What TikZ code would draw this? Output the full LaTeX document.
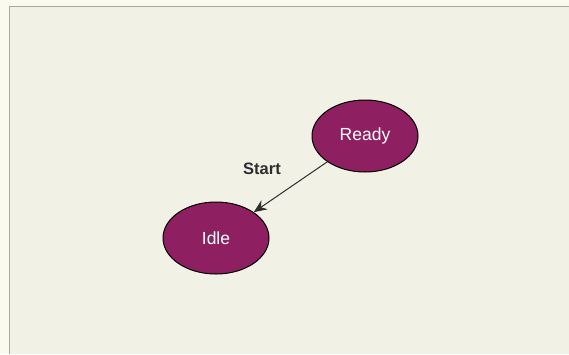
\documentclass[tikz,border=0pt]{standalone}
\usepackage{fontspec}
\setmainfont{Liberation Sans}
\usetikzlibrary{shapes.geometric,arrows.meta}
\definecolor{pagebg}{HTML}{FAFAEE}
\definecolor{canvas}{HTML}{F1F1E6}
\definecolor{framecol}{HTML}{A4AAA2}
\definecolor{statefill}{HTML}{8E2061}
\definecolor{labelcol}{HTML}{2E2E2E}
\tikzset{
  state/.style={ellipse, draw=black, line width=1pt, fill=statefill,
    minimum width=106pt, minimum height=72pt, inner sep=0pt,
    text=white, font=\fontsize{17.5}{20}\selectfont},
  transition/.style={-{Stealth[length=13pt,width=11pt]}, draw=labelcol, line width=1pt},
  translabel/.style={text=labelcol, font=\bfseries\fontsize{16.5}{19}\selectfont}
}
\begin{document}
\begin{tikzpicture}[x=1pt,y=-1pt]
  \useasboundingbox (0,0) rectangle (569,354);
  \fill[pagebg] (0,0) rectangle (569,354);
  \fill[canvas] (9,6) rectangle (569,354);
  \draw[framecol, line width=1pt] (9,354) -- (9,6) -- (569,6);
  \node[state] (ready) at (365,136) {Ready};
  \node[state] (idle) at (216,238) {Idle};
  \draw[transition] (ready) -- (idle);
  \node[translabel] (start) at (262,169) {Start};
\end{tikzpicture}
\end{document}
